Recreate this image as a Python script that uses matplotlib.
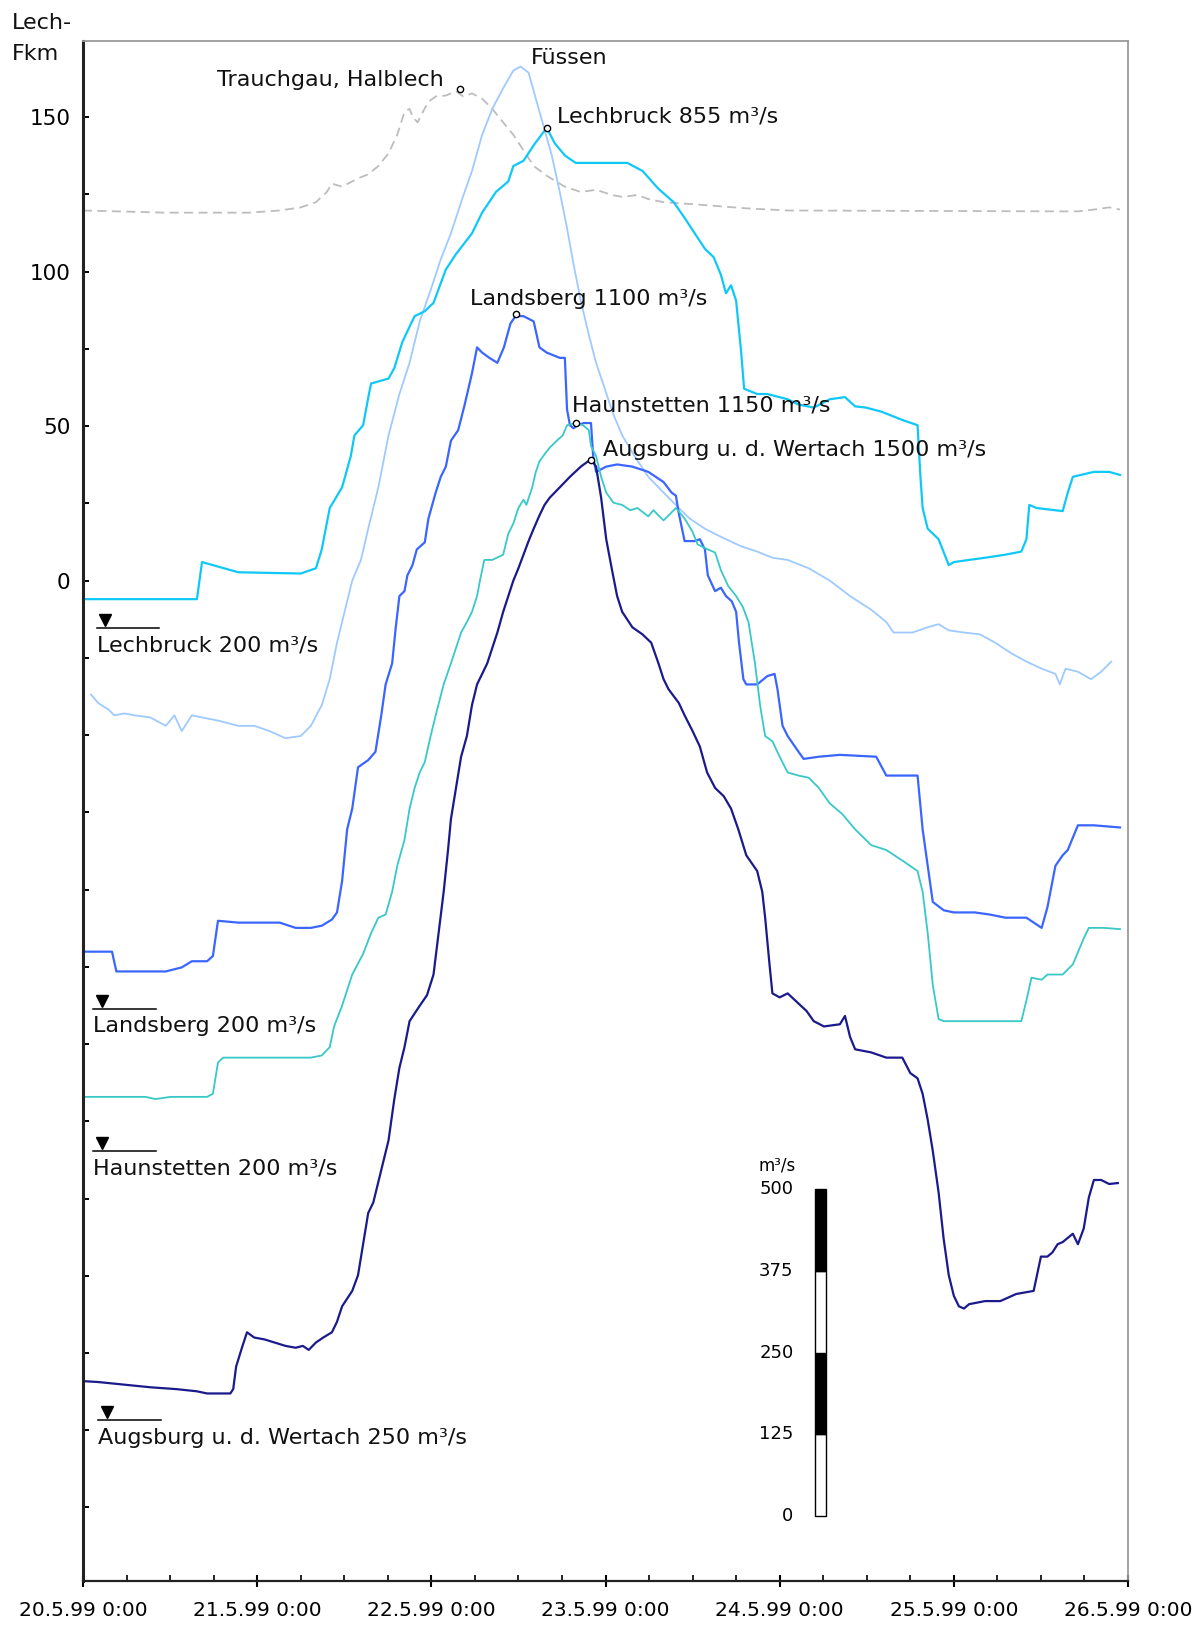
import matplotlib
matplotlib.use("Agg")
import matplotlib.pyplot as plt
from matplotlib.ticker import FixedLocator

plt.rcParams['font.family'] = ['DejaVu Sans']

# ---------------- data (time in hours since 20.5.99 0:00, y in Lech-Fkm axis units) ----------------
trauchgau_t = [0, 11.4, 22.9, 27.1, 30.0, 32.1, 33.6, 34.3, 35.7, 37.9, 39.3, 40.7, 42.1, 43.3, 44.3, 45.0,
               45.4, 46.1, 46.9, 47.6, 48.6, 50.0, 51.4, 52.4, 53.6, 55.0, 56.4, 57.9, 59.3, 60.7, 62.1,
               64.0, 66.4, 68.6, 70.7, 72.9, 74.3, 76.4, 77.9, 80.0, 84.3, 91.4, 97.1, 137.1, 139.3, 141.4, 142.9]
trauchgau_v = [119.8, 119.1, 119.1, 119.8, 120.8, 122.5, 125.8, 128.5, 127.5, 130.2, 131.5, 134.2, 138.3, 144.3,
               151.7, 152.7, 150.3, 148.3, 152.0, 155.0, 156.7, 157.0, 158.4, 156.7, 157.7, 156.0, 152.7,
               148.3, 144.3, 139.3, 134.2, 130.9, 127.5, 125.8, 126.5, 124.8, 124.2, 124.8, 123.5, 122.5,
               121.8, 120.5, 119.8, 119.5, 120.1, 120.8, 120.1]

fuessen_t = [1.1, 2.1, 3.6, 4.3, 5.7, 7.1, 9.3, 11.4, 12.6, 13.6, 15.0, 16.4, 18.6, 21.4, 23.6, 25.7, 27.9,
             30.0, 31.4, 32.9, 34.0, 35.0, 35.7, 36.4, 37.1, 38.3, 39.3, 40.7, 42.1, 43.6, 45.0, 46.4, 47.9,
             49.3, 50.7, 52.1, 53.6, 55.0, 56.4, 57.9, 59.3, 60.3, 61.4, 62.4, 63.6, 64.6, 65.7, 66.7, 67.6,
             68.6, 69.6, 70.7, 71.9, 73.1, 74.3, 76.0, 77.9, 80.0, 82.1, 83.6, 85.7, 87.1, 88.6, 90.7, 92.9,
             95.0, 97.1, 100.0, 102.9, 105.7, 108.6, 110.7, 111.7, 114.3, 116.4, 117.9, 119.3, 121.4, 123.6,
             125.7, 127.9, 130.0, 132.1, 134.0, 134.6, 135.4, 137.1, 138.9, 140.3, 141.7]
fuessen_v = [-36.9, -39.6, -41.9, -43.6, -43.0, -43.6, -44.3, -47.0, -43.6, -48.7, -43.6, -44.3, -45.3, -47.0,
             -47.0, -48.7, -51.0, -50.3, -47.0, -40.3, -31.9, -20.1, -13.4, -6.7, 0.0, 6.7, 16.8, 30.2, 47.0,
             60.4, 70.5, 83.9, 94.0, 104.0, 112.4, 122.5, 132.6, 144.3, 152.7, 159.4, 165.1, 166.4, 164.4,
             156.0, 146.0, 137.6, 125.8, 114.1, 102.3, 90.6, 80.5, 70.5, 62.1, 53.7, 47.0, 40.3, 33.6, 28.5,
             23.5, 20.1, 16.8, 15.1, 13.4, 11.1, 9.4, 7.4, 6.7, 4.0, 0.0, -5.0, -9.4, -13.4, -16.8, -16.8,
             -15.1, -14.1, -16.1, -16.8, -17.4, -20.1, -23.5, -26.2, -28.5, -30.2, -33.6, -28.5, -29.5,
             -31.9, -29.5, -26.2]

lechbruck_t = [0, 15.7, 16.4, 21.4, 30.0, 32.1, 32.9, 34.0, 35.7, 36.9, 37.4, 38.6, 39.4, 39.7, 42.1, 42.9,
               44.0, 45.0, 45.7, 47.1, 48.3, 50.0, 51.4, 53.6, 55.0, 56.9, 58.6, 59.3, 60.7, 62.1, 63.9, 65.0,
               66.4, 67.9, 75.0, 77.1, 79.3, 81.4, 82.9, 84.3, 85.7, 86.9, 87.9, 88.6, 89.3, 90.0, 90.7, 91.1,
               92.9, 94.3, 97.1, 98.6, 100.7, 102.9, 105.0, 106.4, 107.9, 110.0, 112.9, 115.0, 115.4, 115.7,
               116.4, 117.9, 119.3, 120.0, 122.1, 124.3, 127.1, 129.3, 130.0, 130.4, 131.4, 135.0, 135.7,
               136.4, 139.3, 141.4, 142.9]
lechbruck_v = [-6.0, -6.0, 6.0, 2.7, 2.3, 4.0, 10.1, 23.5, 30.2, 40.3, 47.0, 50.3, 60.4, 63.8, 65.4, 68.8,
               77.2, 82.2, 85.6, 87.2, 89.9, 100.7, 105.7, 112.4, 119.1, 125.8, 129.2, 134.2, 135.9, 140.9,
               146.6, 141.6, 137.6, 135.2, 135.2, 132.6, 126.8, 122.5, 117.4, 112.4, 107.4, 104.7, 99.0, 93.0,
               95.6, 90.6, 73.8, 62.1, 60.4, 60.4, 58.7, 57.0, 56.0, 58.7, 59.4, 56.4, 56.0, 54.7, 52.0, 50.3,
               33.6, 23.5, 16.8, 13.4, 5.0, 6.0, 6.7, 7.4, 8.4, 9.4, 13.4, 24.5, 23.5, 22.5, 28.5, 33.6, 35.2,
               35.2, 34.2]

landsberg_t = [0, 4.0, 4.6, 11.4, 13.6, 15.0, 17.1, 17.9, 18.6, 21.4, 27.1, 29.3, 31.4, 32.9, 34.3, 35.0,
               35.7, 36.4, 37.1, 37.9, 39.3, 40.3, 41.1, 41.7, 42.6, 43.1, 43.6, 44.3, 44.7, 45.4, 46.0, 47.1,
               47.6, 48.6, 49.3, 50.0, 50.7, 51.7, 52.6, 53.6, 54.3, 55.0, 56.0, 57.1, 58.0, 58.9, 59.6, 60.7,
               62.1, 62.9, 63.9, 65.7, 66.4, 66.7, 67.1, 67.6, 68.1, 69.0, 70.0, 70.3, 70.7, 72.1, 73.6, 75.7,
               77.9, 80.0, 81.1, 81.7, 82.1, 82.9, 84.3, 85.0, 85.7, 86.1, 87.1, 87.9, 88.6, 89.4, 90.0, 90.4,
               91.0, 91.4, 92.9, 94.3, 95.3, 95.7, 96.4, 97.1, 98.6, 99.3, 101.4, 104.3, 109.3, 110.7, 115.0,
               115.7, 116.4, 117.1, 118.6, 120.0, 122.9, 125.0, 127.1, 130.0, 132.1, 132.9, 134.0, 135.0,
               135.7, 137.1, 139.3, 142.9]
landsberg_v = [-120.1, -120.1, -126.5, -126.5, -125.2, -123.2, -123.2, -121.5, -110.1, -110.7, -110.7,
               -112.4, -112.4, -111.7, -109.7, -107.4, -97.3, -80.5, -73.8, -60.4, -58.1, -55.4, -43.6, -33.6,
               -26.8, -15.1, -5.0, -3.4, 1.7, 5.0, 10.1, 12.4, 20.1, 28.5, 33.6, 36.9, 45.3, 48.7, 57.0, 67.1,
               75.5, 73.8, 72.1, 70.5, 75.5, 83.2, 85.6, 85.6, 83.9, 75.5, 73.8, 72.1, 72.1, 55.4, 50.3, 49.3,
               50.3, 51.0, 51.0, 40.3, 35.2, 36.9, 37.6, 36.9, 35.2, 31.9, 28.5, 27.5, 21.8, 12.8, 12.8, 13.4,
               10.1, 1.7, -3.4, -2.3, -5.0, -6.7, -10.1, -20.1, -31.9, -33.6, -33.6, -30.9, -30.2, -35.2,
               -47.0, -50.3, -55.4, -57.7, -57.0, -56.4, -57.0, -63.1, -63.1, -80.5, -92.3, -104.0, -106.7,
               -107.4, -107.4, -108.1, -109.1, -109.1, -112.4, -105.7, -92.3, -88.9, -87.2, -79.2, -79.2,
               -79.9]

haunstetten_t = [0, 8.6, 10.0, 12.1, 17.1, 17.9, 18.6, 19.3, 31.4, 32.9, 34.0, 34.6, 35.7, 37.1, 38.6, 39.7,
                 40.7, 41.7, 42.6, 43.3, 44.3, 45.0, 45.7, 46.4, 47.1, 47.9, 48.6, 49.7, 50.7, 51.4, 52.1,
                 52.9, 53.6, 54.3, 54.7, 55.3, 56.4, 57.9, 58.6, 59.3, 60.0, 60.7, 61.1, 61.9, 62.4, 62.9,
                 63.6, 64.3, 65.3, 66.1, 66.7, 67.9, 68.9, 69.7, 70.0, 70.7, 71.4, 72.1, 73.1, 74.3, 75.4,
                 76.4, 77.9, 78.6, 79.3, 80.0, 81.7, 82.9, 84.0, 84.7, 86.1, 87.1, 87.9, 88.9, 90.0, 90.9,
                 91.7, 92.6, 93.3, 94.0, 95.0, 96.0, 97.1, 98.6, 100.0, 101.4, 102.9, 104.6, 106.4, 108.6,
                 110.7, 112.9, 115.0, 115.7, 116.4, 117.1, 117.9, 118.6, 129.3, 130.0, 130.7, 132.1, 132.9,
                 135.0, 136.4, 137.9, 138.6, 140.7, 142.9]
haunstetten_v = [-167.1, -167.1, -167.8, -167.1, -167.1, -166.1, -156.0, -154.4, -154.4, -153.7, -151.0,
                 -144.3, -137.6, -127.5, -120.8, -114.1, -109.1, -108.1, -100.7, -92.3, -83.9, -73.8, -67.1,
                 -62.1, -58.7, -50.3, -43.6, -33.6, -26.8, -21.8, -16.8, -13.4, -10.1, -5.0, 0.0, 6.7, 6.7,
                 8.4, 15.1, 18.5, 23.5, 26.2, 24.5, 30.2, 35.2, 38.6, 40.9, 43.0, 45.3, 47.0, 50.3, 51.0, 50.3,
                 48.7, 43.6, 40.3, 33.6, 28.5, 25.2, 24.5, 22.8, 23.5, 20.8, 22.8, 21.1, 19.5, 23.5, 20.1, 15.8,
                 11.7, 10.1, 9.1, 3.4, -1.7, -5.0, -8.4, -13.4, -26.8, -40.3, -50.3, -52.0, -57.0, -62.1,
                 -63.1, -63.8, -67.1, -72.1, -75.5, -80.5, -85.6, -87.2, -90.6, -94.0, -100.7, -114.1, -130.9,
                 -141.9, -142.6, -142.6, -135.9, -128.5, -129.2, -127.5, -127.5, -124.2, -115.8, -112.4,
                 -112.4, -112.8]

augsburg_t = [0, 2.1, 6.4, 9.3, 12.9, 15.7, 17.1, 20.3, 20.7, 21.1, 21.9, 22.6, 23.6, 25.0, 26.4, 27.9, 29.3,
              30.3, 31.1, 32.1, 33.1, 34.3, 35.0, 35.7, 37.1, 37.9, 38.6, 39.3, 40.0, 40.7, 41.4, 42.1, 42.9,
              43.6, 44.3, 45.0, 46.4, 47.4, 48.3, 49.0, 49.7, 50.3, 50.7, 51.4, 52.1, 52.9, 53.6, 54.3, 55.0,
              55.7, 56.4, 57.1, 57.9, 58.6, 59.3, 60.0, 60.7, 61.4, 62.1, 62.9, 63.6, 64.3, 65.7, 67.1, 68.6,
              70.0, 70.7, 71.4, 72.1, 72.9, 73.6, 74.3, 75.7, 77.1, 78.3, 79.3, 80.0, 80.7, 82.1, 82.9, 84.0,
              85.0, 86.0, 87.1, 88.3, 89.3, 90.3, 91.4, 92.9, 93.6, 94.0, 94.6, 95.0, 96.0, 97.1, 98.6, 99.7,
              100.7, 102.1, 104.3, 105.0, 105.7, 106.4, 108.6, 110.7, 112.9, 114.0, 115.0, 115.7, 116.4,
              117.1, 117.9, 118.6, 119.3, 120.0, 120.7, 121.4, 122.1, 124.3, 126.4, 128.6, 131.0, 131.4,
              132.0, 132.9, 133.6, 134.3, 135.0, 136.4, 137.1, 137.9, 138.6, 139.3, 140.3, 141.4, 142.6]
augsburg_v = [-259.1, -259.4, -260.4, -261.1, -261.7, -262.4, -263.1, -263.1, -261.7, -254.4, -248.3, -243.3,
              -245.0, -245.6, -246.6, -247.7, -248.3, -247.7, -249.0, -246.6, -245.0, -243.3, -239.9, -234.9,
              -229.9, -224.8, -214.8, -204.7, -201.3, -194.6, -187.9, -181.2, -167.8, -157.7, -151.0, -142.6,
              -137.6, -134.2, -127.5, -114.1, -100.7, -87.2, -77.2, -67.1, -57.0, -50.3, -40.3, -33.6, -30.2,
              -26.8, -21.8, -16.8, -10.1, -5.0, 0.0, 4.0, 8.4, 12.8, 16.8, 21.1, 24.5, 26.8, 30.2, 33.6, 36.9,
              39.3, 36.9, 26.8, 13.4, 3.4, -5.0, -10.1, -15.1, -17.4, -20.1, -26.8, -31.9, -35.2, -39.6,
              -43.6, -48.7, -53.7, -62.1, -67.1, -69.8, -73.8, -80.5, -88.9, -94.0, -100.7, -109.1, -124.2,
              -133.6, -134.9, -133.6, -136.9, -139.3, -142.6, -144.3, -143.6, -140.9, -147.7, -151.7, -152.7,
              -154.4, -154.4, -159.4, -161.1, -166.1, -174.5, -184.6, -198.0, -213.1, -224.8, -231.5, -234.9,
              -235.6, -234.2, -233.2, -233.2, -230.9, -229.9, -225.5, -218.8, -218.8, -217.4, -214.8, -214.1,
              -211.4, -214.8, -209.7, -199.7, -194.0, -194.0, -195.3, -195.0]

# peak labels: (text, marker time, marker y, label time, label y, alignment)
peak_labels = [
    ("Trauchgau, Halblech", 51.9, 159.1, 49.7, 162.1, "right"),
    ("Füssen", None, None, 61.7, 169.1, "left"),
    ("Lechbruck 855 m³/s", 63.9, 146.6, 65.3, 150.3, "left"),
    ("Landsberg 1100 m³/s", 59.7, 86.2, 53.3, 91.3, "left"),
    ("Haunstetten 1150 m³/s", 67.9, 51.0, 67.4, 56.7, "left"),
    ("Augsburg u. d. Wertach 1500 m³/s", 70.0, 38.9, 71.7, 42.3, "left"),
]
# base-discharge labels: (text, y of the water-level line, start time)
base_labels = [
    ("Lechbruck 200 m³/s", -15.4, 1.9),
    ("Landsberg 200 m³/s", -138.6, 1.4),
    ("Haunstetten 200 m³/s", -184.6, 1.4),
    ("Augsburg u. d. Wertach 250 m³/s", -271.8, 2.1),
]

x_tick_labels = ["20.5.99 0:00", "21.5.99 0:00", "22.5.99 0:00", "23.5.99 0:00",
                 "24.5.99 0:00", "25.5.99 0:00", "26.5.99 0:00"]
y_tick_values = [0, 50, 100, 150]

scale_q = [0, 125, 250, 375, 500]          # m³/s
scale_bottom = -302.7                       # Fkm units at 0 m³/s
scale_len = 105.7                           # Fkm units per 500 m³/s

# ---------------- figure ----------------
W, H = 1198, 1626
fig = plt.figure(figsize=(W / 100, H / 100), dpi=100)
ax = fig.add_axes([83 / W, 1 - 1581 / H, (1128 - 83) / W, (1581 - 41.5) / H])
ax.set_xlim(0, 144)
ax.set_ylim(-323.8, 174.5)

ax.plot(trauchgau_t, trauchgau_v, color="#bdbdbd", lw=1.3, ls=(0, (5, 3)))
ax.plot(fuessen_t, fuessen_v, color="#9fcaff", lw=1.3)
ax.plot(lechbruck_t, lechbruck_v, color="#10c8f8", lw=1.6)
ax.plot(landsberg_t, landsberg_v, color="#3a66ff", lw=1.6)
ax.plot(haunstetten_t, haunstetten_v, color="#38c8c8", lw=1.3)
ax.plot(augsburg_t, augsburg_v, color="#1a1a8c", lw=1.6)

FS = 16
for text, mt, mv, lt, lv, ha in peak_labels:
    if mt is not None:
        ax.plot([mt], [mv], marker="o", ms=4.5, mfc="white", mec="black", mew=1.0, zorder=5)
    ax.text(lt, lv, text, ha=ha, va="center", fontsize=FS, color="#111111")

for text, lv, lt in base_labels:
    ax.plot([lt, lt + 8.6], [lv, lv], color="black", lw=1.1)
    ax.plot([lt + 1.2], [lv + 2.6], marker="v", ms=8, color="black")
    ax.text(lt, lv - 5.6, text, ha="left", va="center", fontsize=FS, color="#111111")

# discharge scale bar
seg_colors = ["white", "black", "white", "black"]
for i in range(4):
    y0 = scale_bottom + scale_q[i] / 500 * scale_len
    h = (scale_q[i + 1] - scale_q[i]) / 500 * scale_len
    ax.bar(101.65, h, width=1.57, bottom=y0, color=seg_colors[i], edgecolor="black", linewidth=1.0)
for q in scale_q:
    ax.text(97.9, scale_bottom + q / 500 * scale_len, str(q), ha="right", va="center", fontsize=13)
ax.text(95.7, scale_bottom + scale_len + 7.7, "m³/s", ha="center", va="center", fontsize=12)

# axes styling
for s in ("top", "right"):
    ax.spines[s].set_color("#9a9a9a")
    ax.spines[s].set_linewidth(1.3)
ax.spines["left"].set_linewidth(2.2)
ax.spines["bottom"].set_linewidth(1.6)
ax.spines["left"].set_color("#222222")
ax.spines["bottom"].set_color("#222222")

ax.xaxis.set_major_locator(FixedLocator([24 * i for i in range(7)]))
ax.xaxis.set_minor_locator(FixedLocator([6 * i for i in range(25) if i % 4 != 0]))
ax.set_xticklabels(x_tick_labels, fontsize=14.5)
ax.tick_params(axis="x", which="major", direction="inout", length=9, width=1.5, pad=10)
ax.tick_params(axis="x", which="minor", direction="in", length=4, width=1.2)

ax.yaxis.set_major_locator(FixedLocator(y_tick_values))
ax.yaxis.set_minor_locator(FixedLocator([v for v in range(-300, 175, 25) if v not in y_tick_values]))
ax.set_yticklabels([str(v) for v in y_tick_values], fontsize=15.5)
ax.tick_params(axis="y", which="major", direction="in", length=4, width=1.4, pad=9)
ax.tick_params(axis="y", which="minor", direction="in", length=4, width=1.4)

fig.text(12 / W, 1 - 23 / H, "Lech-", ha="left", va="center", fontsize=FS, color="#111111")
fig.text(12 / W, 1 - 54 / H, "Fkm", ha="left", va="center", fontsize=FS, color="#111111")

fig.savefig("out.png", dpi=100)
